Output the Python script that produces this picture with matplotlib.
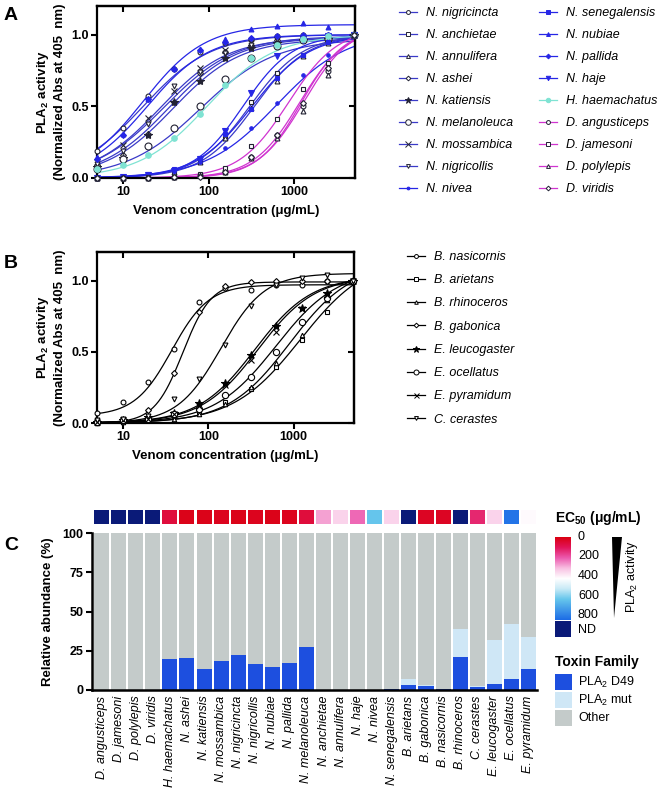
import numpy as np
import matplotlib
matplotlib.use("Agg")
import matplotlib.pyplot as plt
from matplotlib.colors import LinearSegmentedColormap
from matplotlib.lines import Line2D
from matplotlib.patches import Rectangle, Polygon

plt.rcParams['font.family'] = ['Liberation Sans', 'DejaVu Sans']
plt.rcParams['mathtext.fontset'] = 'custom'
plt.rcParams['mathtext.rm'] = 'Liberation Sans'
plt.rcParams['mathtext.it'] = 'Liberation Sans:italic'
plt.rcParams['mathtext.bf'] = 'Liberation Sans:bold'

# =========================
# DATA
# =========================
conc = [4.88, 9.77, 19.5, 39.1, 78.1, 156, 312, 625, 1250, 2500, 5000]

# panel A: Naja / Hemachatus / Dendroaspis
a_names = ["N. nigricincta", "N. anchietae", "N. annulifera", "N. ashei", "N. katiensis",
           "N. melanoleuca", "N. mossambica", "N. nigricollis", "N. nivea",
           "N. senegalensis", "N. nubiae", "N. pallida", "N. haje", "H. haemachatus",
           "D. angusticeps", "D. jamesoni", "D. polylepis", "D. viridis"]
a_ec50 = [17, 300, 340, 34, 38, 80, 27, 30, 620, 320, 17, 19, 250, 95, 1150, 850, 1300, 1200]
a_hill = [1.1, 1.4, 1.4, 1.1, 1.1, 1.0, 1.1, 1.05, 1.05, 1.3, 1.2, 1.2, 1.5, 1.1, 1.6, 1.5, 1.6, 1.7]
a_top = [1.0, 1.0, 1.0, 0.98, 0.97, 0.97, 0.98, 0.99, 1.02, 1.0, 1.07, 1.0, 1.0, 1.0, 1.05, 1.05, 1.07, 1.05]
a_points = [
    [0.19, 0.35, 0.57, 0.76, 0.88, 0.94, 0.97, 0.99, 1.00, 1.00, 1.00],
    [0.00, 0.01, 0.02, 0.05, 0.12, 0.29, 0.53, 0.73, 0.86, 0.95, 1.00],
    [0.00, 0.00, 0.01, 0.04, 0.11, 0.28, 0.49, 0.68, 0.85, 0.94, 1.00],
    [0.09, 0.16, 0.31, 0.53, 0.73, 0.88, 0.93, 0.96, 0.97, 0.98, 1.00],
    [0.08, 0.14, 0.30, 0.53, 0.68, 0.84, 0.91, 0.94, 0.96, 0.97, 1.00],
    [0.06, 0.13, 0.22, 0.35, 0.50, 0.69, 0.84, 0.92, 0.96, 0.97, 1.00],
    [0.11, 0.23, 0.42, 0.61, 0.77, 0.89, 0.94, 0.96, 0.98, 0.98, 1.00],
    [0.10, 0.19, 0.38, 0.64, 0.74, 0.87, 0.93, 0.97, 0.98, 0.99, 1.00],
    [0.00, 0.01, 0.02, 0.05, 0.11, 0.21, 0.35, 0.52, 0.72, 0.86, 1.00],
    [0.00, 0.01, 0.03, 0.06, 0.14, 0.31, 0.48, 0.70, 0.86, 0.95, 1.00],
    [0.15, 0.31, 0.55, 0.77, 0.90, 0.97, 1.04, 1.06, 1.08, 1.05, 1.00],
    [0.13, 0.30, 0.55, 0.76, 0.89, 0.95, 0.98, 0.99, 1.00, 1.00, 1.00],
    [0.00, 0.01, 0.02, 0.05, 0.13, 0.33, 0.59, 0.85, 0.96, 0.99, 1.00],
    [0.06, 0.09, 0.16, 0.28, 0.45, 0.65, 0.84, 0.93, 0.97, 0.99, 1.00],
    [0.00, 0.00, 0.00, 0.01, 0.02, 0.05, 0.15, 0.30, 0.50, 0.75, 1.00],
    [0.00, 0.00, 0.01, 0.01, 0.03, 0.07, 0.22, 0.41, 0.62, 0.80, 1.00],
    [0.00, 0.00, 0.00, 0.01, 0.02, 0.04, 0.14, 0.28, 0.47, 0.72, 1.00],
    [0.00, 0.00, 0.00, 0.01, 0.01, 0.04, 0.15, 0.30, 0.52, 0.77, 1.00],
]

# panel B: Bitis / Echis / Cerastes
b_names = ["B. nasicornis", "B. arietans", "B. rhinoceros", "B. gabonica",
           "E. leucogaster", "E. ocellatus", "E. pyramidum", "C. cerastes"]
b_ec50 = [37, 1200, 900, 50, 350, 620, 380, 140]
b_hill = [2.0, 1.1, 1.2, 2.6, 1.3, 1.2, 1.3, 1.7]
b_top = [0.97, 1.17, 1.12, 0.99, 1.03, 1.08, 1.03, 1.05]
b_bottom = [0.05, 0, 0, 0, 0, 0, 0, 0]
b_points = [
    [0.07, 0.15, 0.29, 0.52, 0.85, 0.95, 0.93, 0.97, 0.97, 1.00, 1.00],
    [0.01, 0.02, 0.03, 0.05, 0.08, 0.15, 0.24, 0.39, 0.58, 0.78, 1.00],
    [0.00, 0.01, 0.02, 0.03, 0.06, 0.13, 0.25, 0.42, 0.62, 0.86, 1.00],
    [0.01, 0.02, 0.09, 0.35, 0.78, 0.96, 0.99, 1.00, 1.00, 1.00, 1.00],
    [0.01, 0.02, 0.04, 0.07, 0.14, 0.28, 0.48, 0.68, 0.81, 0.91, 1.00],
    [0.01, 0.02, 0.03, 0.06, 0.10, 0.20, 0.32, 0.50, 0.71, 0.88, 1.00],
    [0.01, 0.02, 0.03, 0.06, 0.12, 0.27, 0.44, 0.64, 0.80, 0.90, 1.00],
    [0.02, 0.03, 0.05, 0.17, 0.31, 0.55, 0.82, 0.97, 1.02, 1.04, 1.00],
]

# panel C: toxin composition + EC50 strip
c_species = ["D. angusticeps", "D. jamesoni", "D. polylepis", "D. viridis", "H. haemachatus",
             "N. ashei", "N. katiensis", "N. mossambica", "N. nigricincta", "N. nigricollis",
             "N. nubiae", "N. pallida", "N. melanoleuca", "N. anchietae", "N. annulifera",
             "N. haje", "N. nivea", "N. senegalensis", "B. arietans", "B. gabonica",
             "B. nasicornis", "B. rhinoceros", "C. cerastes", "E. leucogaster",
             "E. ocellatus", "E. pyramidum"]
pla2_d49 = [0, 0, 0, 0, 19.8, 20.3, 13.5, 18.5, 22.4, 16.5, 14.4, 17.5, 27.5,
            0, 0, 0, 0, 0.5, 3.0, 2.5, 0.5, 20.8, 2.0, 4.0, 6.7, 13.5]
pla2_mut = [0, 0, 0, 0, 0, 0, 0, 0, 0, 0, 0, 0, 0,
            0, 0, 0, 0, 0, 4.0, 0.8, 0, 18.2, 0.7, 28.0, 35.3, 20.5]
ec50_c = [np.nan, np.nan, np.nan, np.nan, 60, 15, 15, 20, 15, 20, 15, 20, 60,
          270, 330, 215, 600, 330, np.nan, 25, 25, np.nan, 125, 330, 780, 392]

# =========================
# STYLES
# =========================
NAJA = "#3a3ac8"
NAJA2 = "#2626e6"
CYAN = "#7fe3d3"
MAG = "#d034d0"
DARK = "#222233"
a_style = [
    (NAJA, 'o', 'white', 3.5), (NAJA, 's', 'white', 3.2), (NAJA, '^', 'white', 3.5),
    (NAJA, 'D', 'white', 3.0), (NAJA, '*', DARK, 6.0), (NAJA, 'o', 'white', 5.0),
    (NAJA, 'x', DARK, 5.0), (NAJA, 'v', 'white', 3.5), (NAJA2, '.', NAJA2, 5.0),
    (NAJA2, 's', NAJA2, 3.2), (NAJA2, '^', NAJA2, 3.5), (NAJA2, 'D', NAJA2, 3.0),
    (NAJA2, 'v', NAJA2, 4.0), (CYAN, 'o', CYAN, 4.0),
    (MAG, 'o', 'white', 3.5), (MAG, 's', 'white', 3.2), (MAG, '^', 'white', 3.5),
    (MAG, 'D', 'white', 3.0),
]
b_style = [('o', 3.5), ('s', 3.2), ('^', 3.2), ('D', 3.0), ('*', 6.0), ('o', 4.5), ('x', 4.5), ('v', 3.5)]

W, H = 661, 791


def fx(px):
    return px / W


def fy(py):
    return 1 - py / H


def fit(x, ec50, h, top, bottom=0.0):
    return bottom + (top - bottom) / (1 + (ec50 / x) ** h)


fig = plt.figure(figsize=(W / 100, H / 100), dpi=100)
xs = np.logspace(np.log10(conc[0]), np.log10(conc[-1]), 300)


def style_curve_axes(ax):
    ax.set_xscale('log')
    ax.set_xlim(4.9, 5120)
    ax.set_ylim(0, 1.2)
    ax.set_xticks([10, 100, 1000])
    ax.set_xticklabels(["10", "100", "1000"], fontweight='bold', fontsize=9)
    ax.xaxis.set_minor_locator(matplotlib.ticker.NullLocator())
    ax.set_yticks([0, 0.5, 1.0])
    ax.set_yticklabels(["0.0", "0.5", "1.0"], fontweight='bold', fontsize=9)
    ax.tick_params(length=4, width=1.5, pad=2)
    for s in ax.spines.values():
        s.set_linewidth(1.6)
    # mirrored inward ticks
    sx = ax.secondary_xaxis('top')
    sx.set_xticks([10, 100, 1000])
    sx.xaxis.set_minor_locator(matplotlib.ticker.NullLocator())
    sx.tick_params(direction='in', length=4, width=1.5, labeltop=False)
    sx.spines['top'].set_linewidth(1.6)
    sy = ax.secondary_yaxis('right')
    sy.set_yticks([0, 0.5, 1.0])
    sy.tick_params(direction='in', length=4, width=1.5, labelright=False)
    sy.spines['right'].set_linewidth(1.6)
    ax.set_xlabel("Venom concentration (μg/mL)", fontweight='bold', fontsize=9.5, labelpad=5)
    ax.set_ylabel("PLA$_\\mathbf{2}$ activity\n(Normalized Abs at 405  nm)",
                  fontweight='bold', fontsize=9.5, labelpad=4, linespacing=1.25)


# =========================
# PANEL A
# =========================
axA = fig.add_axes([fx(97), fy(178), (355 - 97) / W, (178 - 6) / H])
handlesA = []
for i, name in enumerate(a_names):
    col, mk, fc, ms = a_style[i]
    axA.plot(xs, fit(xs, a_ec50[i], a_hill[i], a_top[i]), color=col, lw=0.9, zorder=2)
    ec = DARK if fc == 'white' or mk in ('*', 'x') else col
    axA.plot(conc, a_points[i], ls='none', marker=mk, ms=ms, mfc=fc, mec=ec, mew=0.8,
             zorder=3, clip_on=False)
    handlesA.append(Line2D([], [], color=col, lw=0.9, marker=mk, ms=ms * 0.8, mfc=fc,
                           mec=ec, mew=0.7))
style_curve_axes(axA)

leg_kw = dict(frameon=False, handlelength=1.45, handletextpad=0.7,
              borderpad=0, borderaxespad=0, labelspacing=0.80,
              bbox_transform=fig.transFigure, loc='upper left', prop={'style': 'italic', 'size': 9})
l1 = fig.legend(handlesA[:9], a_names[:9], bbox_to_anchor=(fx(399), fy(7)), **leg_kw)
l2 = fig.legend(handlesA[9:], a_names[9:], bbox_to_anchor=(fx(539), fy(7)), **leg_kw)

# =========================
# PANEL B
# =========================
axB = fig.add_axes([fx(97), fy(423), (354 - 97) / W, (423 - 252) / H])
handlesB = []
for i, name in enumerate(b_names):
    mk, ms = b_style[i]
    axB.plot(xs, fit(xs, b_ec50[i], b_hill[i], b_top[i], b_bottom[i]), color='black', lw=0.9, zorder=2)
    fc = 'black' if mk in ('*', 'x') else 'white'
    axB.plot(conc, b_points[i], ls='none', marker=mk, ms=ms, mfc=fc, mec='black', mew=0.8,
             zorder=3, clip_on=False)
    handlesB.append(Line2D([], [], color='black', lw=0.9, marker=mk, ms=ms * 0.8, mfc=fc,
                           mec='black', mew=0.7))
style_curve_axes(axB)
leg_kw['labelspacing'] = 0.90
l3 = fig.legend(handlesB, b_names, bbox_to_anchor=(fx(407), fy(251)), **leg_kw)

# =========================
# PANEL C
# =========================
idx = np.arange(len(c_species))
d49 = np.array(pla2_d49)
mut = np.array(pla2_mut)
other = 100 - d49 - mut

axC = fig.add_axes([fx(92), fy(690), (537 - 92) / W, (690 - 533) / H])
axC.bar(idx, d49, width=0.88, color="#1d4fdf", lw=0)
axC.bar(idx, mut, bottom=d49, width=0.88, color="#cfe7f6", lw=0)
axC.bar(idx, other, bottom=d49 + mut, width=0.88, color="#c4cbca", lw=0)
axC.set_xlim(-0.56, len(c_species) - 0.5)
axC.set_ylim(0, 100)
axC.set_yticks([0, 25, 50, 75, 100])
axC.set_yticklabels(["0", "25", "50", "75", "100"], fontweight='bold', fontsize=9)
axC.set_xticks(idx)
axC.set_xticklabels(c_species, rotation=90, style='italic', fontsize=9)
axC.tick_params(axis='x', length=0, pad=4)
axC.tick_params(axis='y', length=4, width=1.5, pad=2)
axC.spines['top'].set_visible(False)
axC.spines['right'].set_visible(False)
axC.spines['left'].set_linewidth(1.8)
axC.spines['bottom'].set_linewidth(1.8)
axC.set_ylabel("Relative abundance (%)", fontweight='bold', fontsize=9.5, labelpad=6)

# EC50 strip
cmap = LinearSegmentedColormap.from_list("ec50", [
    (0.0, "#da0010"), (0.125, "#e2155a"), (0.25, "#ec5aae"), (0.375, "#f8c0e2"),
    (0.5, "#ffffff"), (0.625, "#c8eaf6"), (0.75, "#66c6ec"), (1.0, "#1c6ce6")])
ND = "#0a1a78"
strip_cols = [ND if np.isnan(v) else cmap(v / 800) for v in ec50_c]
axH = fig.add_axes([fx(92), fy(524), (537 - 92) / W, 14 / H])
axH.bar(idx, 1, width=0.88, color=strip_cols, lw=0)
axH.set_xlim(-0.56, len(c_species) - 0.5)
axH.set_ylim(0, 1)
axH.axis('off')

# EC50 colour key
axK = fig.add_axes([fx(555), fy(620), 16 / W, 83 / H])
axK.imshow(np.linspace(0, 1, 256).reshape(-1, 1), cmap=cmap, aspect='auto', extent=[0, 1, 1, 0])
axK.axis('off')
fig.patches.append(Rectangle((fx(555), fy(637)), 16 / W, 16 / H, transform=fig.transFigure,
                             color=ND, lw=0))
fig.text(fx(555), fy(518), "EC$_\\mathbf{50}$ (μg/mL)", fontweight='bold', fontsize=10, va='center')
for lab, py in zip(["0", "200", "400", "600", "800", "ND"], [537, 556, 576, 596, 615, 630]):
    fig.text(fx(578), fy(py), lab, fontsize=9, va='center')
fig.patches.append(Polygon([(fx(612), fy(537)), (fx(622), fy(537)), (fx(614), fy(618))],
                           closed=True, transform=fig.transFigure, color='black', lw=0))
fig.text(fx(632), fy(577), "PLA$_2$ activity", rotation=90, fontsize=9, ha='center', va='center')

# Toxin family key
fig.text(fx(555), fy(662), "Toxin Family", fontweight='bold', fontsize=10, va='center')
for lab, col, py in zip(["PLA$_2$ D49", "PLA$_2$ mut", "Other"],
                        ["#1d4fdf", "#cfe7f6", "#c4cbca"], [682, 700, 718]):
    fig.patches.append(Rectangle((fx(555), fy(py + 8)), 17 / W, 16 / H, transform=fig.transFigure,
                                 color=col, lw=0))
    fig.text(fx(578), fy(py), lab, fontsize=9, va='center')

# panel letters
for lab, py in [("A", 15), ("B", 263), ("C", 545)]:
    fig.text(fx(4), fy(py), lab, fontsize=14, fontweight='bold', va='center')

fig.savefig("out.png", dpi=100)
